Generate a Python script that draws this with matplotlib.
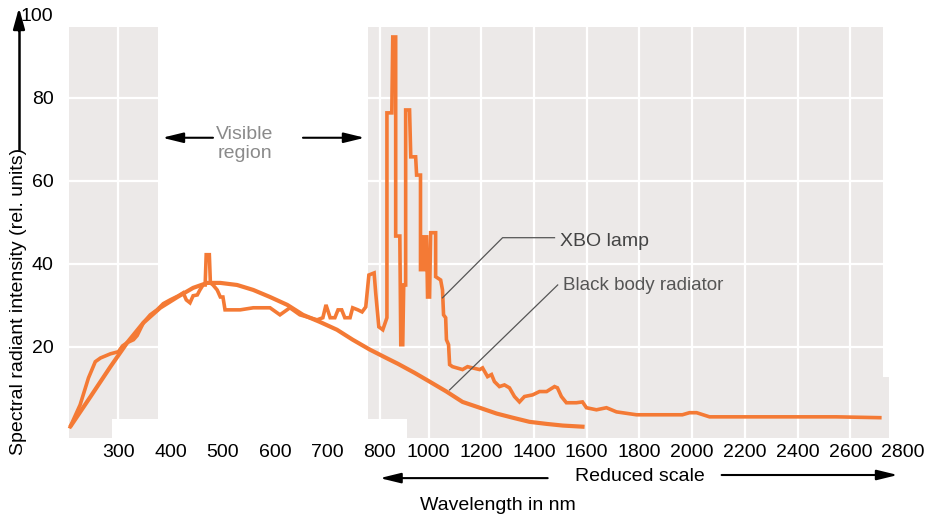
import numpy as np
import matplotlib
matplotlib.use("Agg")
import matplotlib.pyplot as plt

# x axis is stretched below 800 nm and reduced above it
WL_BREAKS = [200, 800, 1000, 2800]
POS_BREAKS = [0, 6, 6.93, 16]

# XBO lamp spectrum
xbo_nm = [208, 227, 243, 256, 266, 285, 300, 308, 317, 329, 336, 348, 361, 374, 386, 399,
          415, 424, 430, 437, 443, 451, 456, 462, 466, 468, 474, 476, 481, 489, 495, 500,
          504, 533, 558, 590, 609, 628, 647, 680, 691, 697, 705, 714, 720, 727, 733, 743,
          748, 758, 766, 773, 779, 789, 792, 798, 812, 829, 829, 849, 853, 865, 865, 882,
          886, 894, 898, 906, 906, 922, 927, 947, 951, 967, 967, 980, 980, 992, 996, 1004,
          1008, 1027, 1027, 1046, 1053, 1057, 1065, 1068, 1076, 1080, 1091, 1129, 1148, 1167,
          1194, 1205, 1224, 1239, 1250, 1269, 1288, 1307, 1326, 1345, 1364, 1395, 1421, 1448,
          1478, 1489, 1504, 1523, 1561, 1584, 1599, 1637, 1675, 1713, 1789, 1838, 1963, 1990,
          2017, 2066, 2245, 2548, 2712]
xbo_val = [0.7, 6.0, 12.5, 16.4, 17.3, 18.3, 18.8, 20.2, 21.0, 21.7, 22.7, 25.8, 27.7, 28.9,
           30.4, 31.3, 32.3, 33.0, 31.3, 30.6, 32.3, 32.5, 33.7, 34.9, 34.9, 42.2, 42.2, 35.4,
           34.9, 33.7, 32.0, 32.0, 28.9, 28.9, 29.4, 29.4, 27.7, 29.4, 27.7, 26.5, 27.0, 30.1,
           27.0, 27.0, 28.9, 28.9, 27.0, 27.0, 29.4, 28.9, 28.4, 29.6, 37.3, 37.8, 33.0, 24.8,
           24.1, 27.0, 76.4, 76.4, 94.7, 94.7, 46.7, 46.7, 20.5, 20.5, 34.9, 34.9, 77.1, 77.1,
           65.8, 65.8, 61.4, 61.4, 38.6, 38.6, 46.5, 46.5, 32.0, 32.0, 47.5, 47.5, 36.9, 36.1,
           33.7, 27.7, 27.0, 21.7, 20.5, 15.7, 15.2, 14.5, 15.2, 14.9, 14.5, 14.9, 12.8, 13.3,
           11.6, 10.4, 10.8, 10.1, 8.0, 6.7, 8.0, 8.4, 9.2, 9.2, 10.4, 10.1, 8.0, 6.5, 6.5, 6.7,
           5.3, 4.8, 5.3, 4.3, 3.6, 3.6, 3.6, 4.1, 4.1, 3.1, 3.1, 3.1, 2.9]

# black body radiator curve
bb_nm = [208, 247, 285, 317, 348, 380, 413, 443, 470, 495, 527, 558, 590, 623, 653, 685,
         718, 748, 781, 833, 874, 943, 1004, 1068, 1129, 1194, 1258, 1319, 1383, 1448,
         1509, 1592]
bb_val = [0.7, 8.0, 15.2, 21.0, 25.8, 29.4, 32.0, 34.2, 35.4, 35.4, 34.9, 33.7, 32.0, 30.1,
          27.7, 26.0, 24.1, 21.7, 19.3, 17.1, 15.9, 13.7, 11.6, 9.2, 6.7, 5.3, 3.9, 2.9, 1.9,
          1.4, 1.0, 0.7]

xticks = [300, 400, 500, 600, 700, 800, 1000, 1200, 1400, 1600, 1800, 2000, 2200, 2400,
          2600, 2800]
yticks = [20, 40, 60, 80, 100]

ORANGE = "#f47a35"
GREY_BG = "#ece9e8"


def forward(x):
    return np.interp(x, WL_BREAKS, POS_BREAKS)


def inverse(p):
    return np.interp(p, POS_BREAKS, WL_BREAKS)


plt.rcParams["font.family"] = ["Liberation Sans", "DejaVu Sans"]

fig = plt.figure(figsize=(9.33, 5.18), dpi=100)
ax = fig.add_axes([66 / 933, 80 / 518, 837 / 933, 423 / 518])
ax.set_xscale("function", functions=(forward, inverse))
ax.set_xlim(200, 2800)
ax.set_ylim(-2, 100)

# background panels
ax.fill_between([206, 2723], -2, 97, color=GREY_BG, lw=0, zorder=0)
ax.fill_between([2723, 2745], -2, 12.8, color=GREY_BG, lw=0, zorder=0)
ax.fill_between([376, 777], -2, 97, color="white", lw=0, zorder=0.5)
ax.fill_between([287, 910], -2, 2.7, color="white", lw=0, zorder=0.5)

ax.set_xticks(xticks)
ax.set_yticks(yticks)
ax.grid(True, color="white", lw=1.6, zorder=1)
ax.set_axisbelow(True)
for s in ax.spines.values():
    s.set_visible(False)
ax.tick_params(length=0, labelsize=14, colors="black")
ax.tick_params(axis="x", pad=4)
ax.tick_params(axis="y", pad=9)

ax.plot(bb_nm, bb_val, color=ORANGE, lw=3.0, zorder=3, solid_capstyle="butt")
ax.plot(xbo_nm, xbo_val, color=ORANGE, lw=2.6, zorder=4, solid_joinstyle="miter")

# leader lines and labels
ax.plot([1478, 1281, 1053], [46.3, 46.3, 31.8], color="#555555", lw=0.9, zorder=5)
ax.plot([1490, 1080], [34.9, 9.6], color="#555555", lw=0.9, zorder=5)
ax.text(1497, 45.5, "XBO lamp", fontsize=14, color="#444444", va="center", ha="left")
ax.text(1509, 34.7, "Black body radiator", fontsize=13.5, color="#555555",
        va="center", ha="left")

# visible region
ax.text(542, 68.9, "Visible\nregion", fontsize=14, color="#8a8a8a", ha="center",
        va="center", linespacing=1.15)
arrow = dict(arrowstyle="-|>,head_length=0.9,head_width=0.22", color="black", lw=1.5,
             mutation_scale=14, shrinkA=0, shrinkB=0)
ax.annotate("", xy=(384, 70.4), xytext=(481, 70.4), arrowprops=arrow)
ax.annotate("", xy=(771, 70.4), xytext=(653, 70.4), arrowprops=arrow)

# reduced scale arrows under the axis
ax.annotate("", xy=(800, 0.077), xycoords=("data", "figure fraction"),
            xytext=(1452, 0.077), textcoords=("data", "figure fraction"),
            arrowprops=arrow, annotation_clip=False)
ax.annotate("", xy=(2780, 0.083), xycoords=("data", "figure fraction"),
            xytext=(2112, 0.083), textcoords=("data", "figure fraction"),
            arrowprops=arrow, annotation_clip=False)
ax.annotate("Reduced scale", xy=(1800, 0.081), xycoords=("data", "figure fraction"),
            fontsize=14, ha="center", va="center", annotation_clip=False)
ax.annotate("Wavelength in nm", xy=(1262, 0.025), xycoords=("data", "figure fraction"),
            fontsize=14, ha="center", va="center", annotation_clip=False)

# y label with upward arrow
fig.text(19 / 933, 0.419, "Spectral radiant intensity (rel. units)", rotation=90,
         fontsize=14, ha="center", va="center")
fig.add_artist(plt.Line2D([19 / 933, 19 / 933], [0.712, 0.96], color="black", lw=1.8))
ax.annotate("", xy=(19 / 933, 0.985), xycoords="figure fraction",
            xytext=(19 / 933, 0.94), textcoords="figure fraction",
            arrowprops=dict(arrowstyle="-|>,head_length=0.9,head_width=0.25",
                            color="black", lw=1.8, mutation_scale=14, shrinkA=0, shrinkB=0))

fig.savefig("out.png", dpi=100)
